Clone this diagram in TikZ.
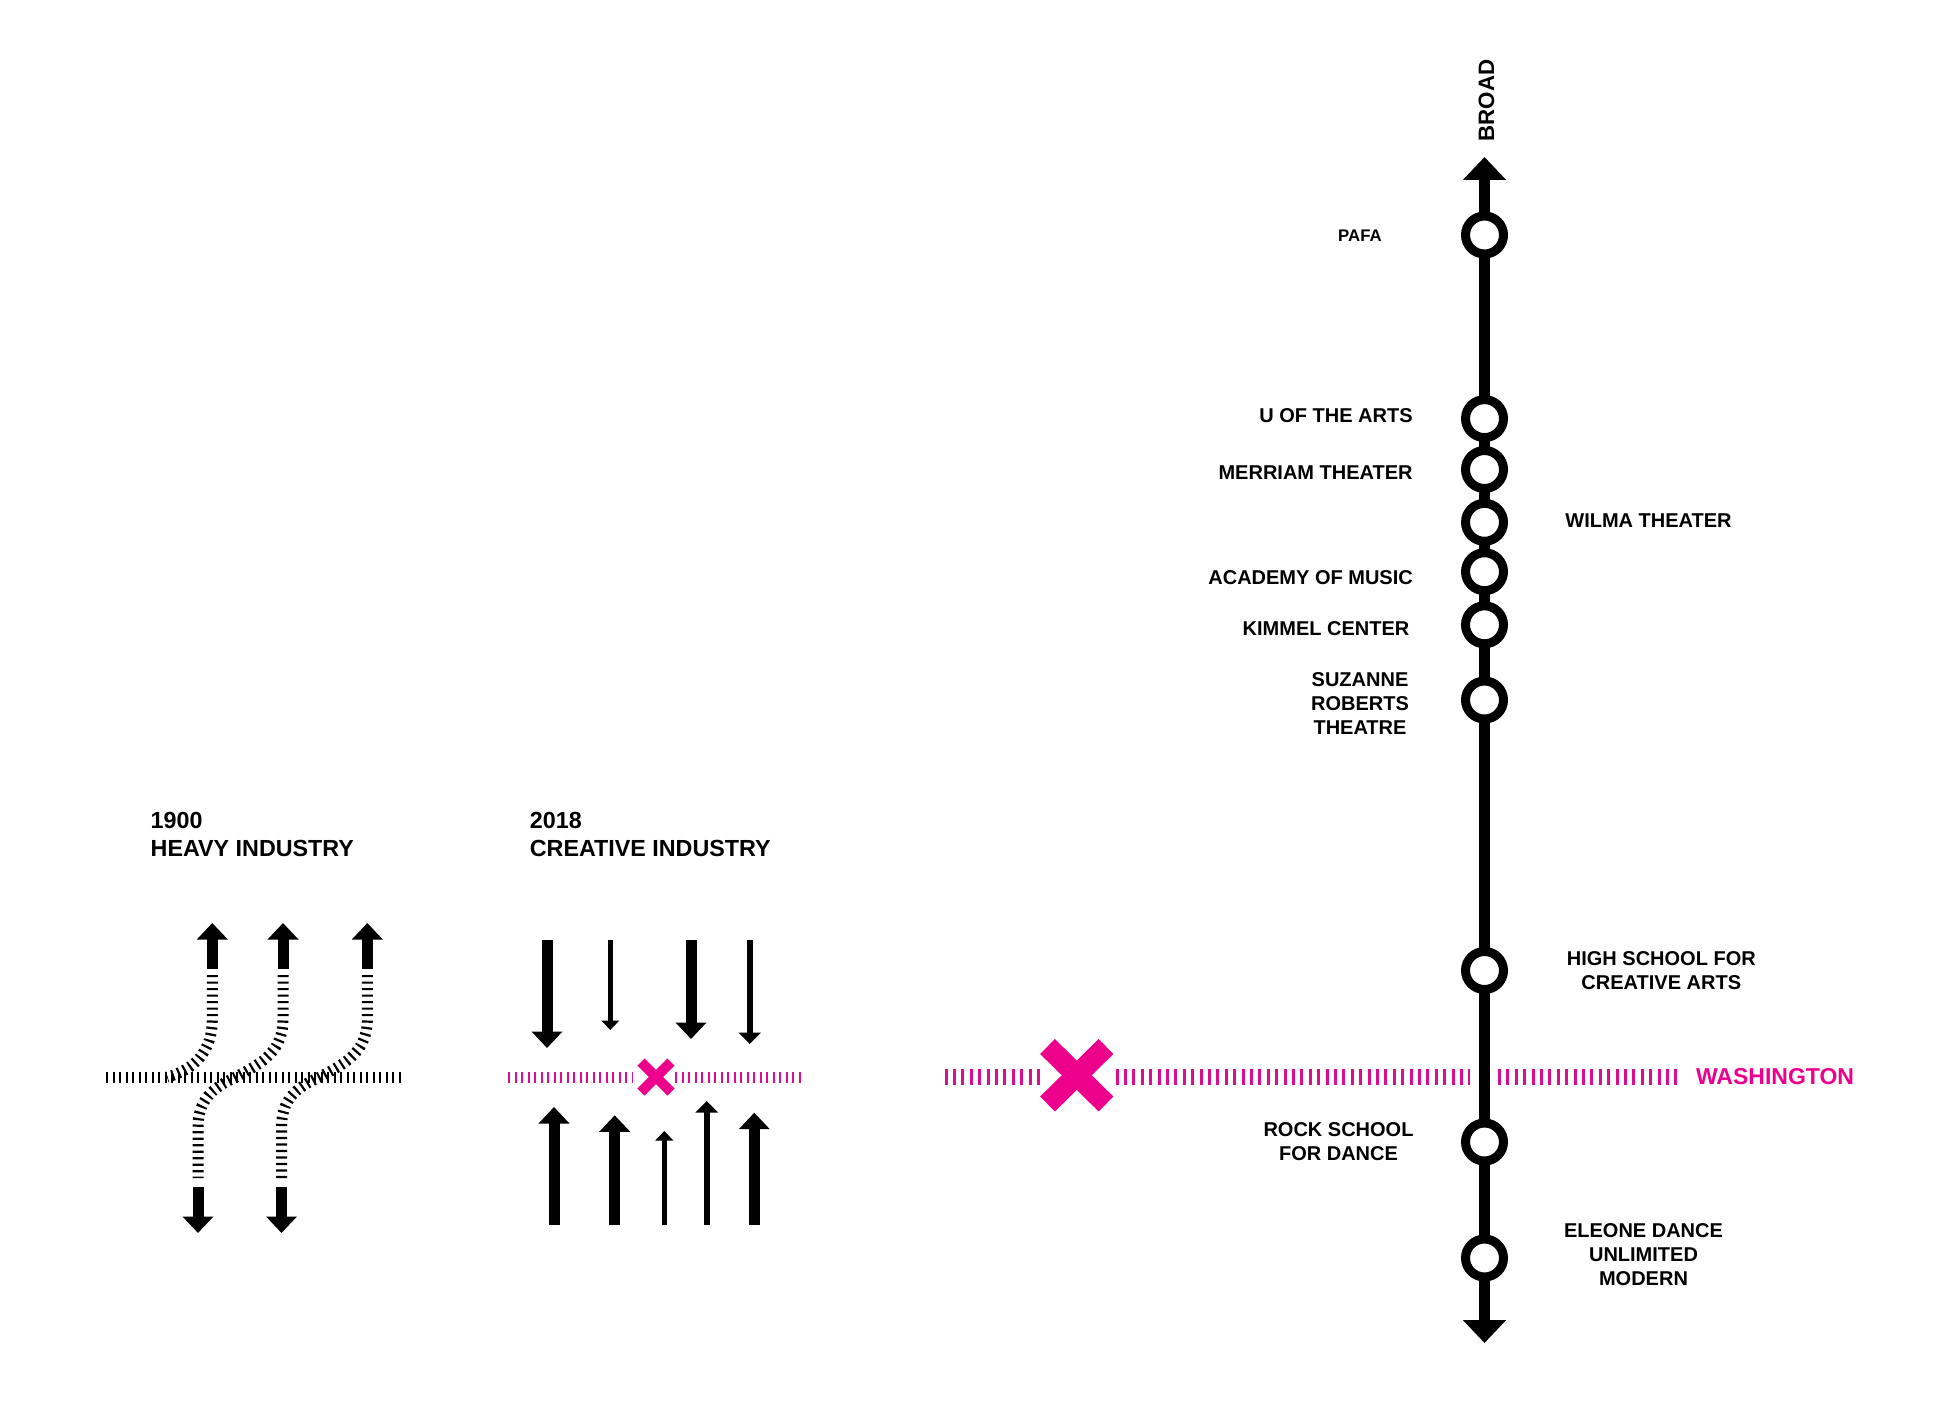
\documentclass[tikz,border=0pt]{standalone}
\usepackage{fontspec}
\setmainfont{Liberation Sans}
\usetikzlibrary{arrows.meta}
\definecolor{hotpink}{HTML}{EC008C}
\definecolor{tiepink}{HTML}{DC0E8C}
\tikzset{
  lbl/.style={font=\bfseries\fontsize{20}{24}\selectfont,align=center,inner sep=0pt,text=black},
  ttl/.style={font=\bfseries\fontsize{23.3}{28}\selectfont,align=left,inner sep=0pt,anchor=west},
  stopring/.style={circle,draw=black,fill=white,line width=9pt,minimum size=38pt,inner sep=0pt,outer sep=0pt},
  road/.style={draw=black,line width=11.5pt},
  ties/.style={draw=black,line width=11pt,dash pattern=on 2.2pt off 4.3pt},
  pinkties/.style={draw=tiepink,line width=11pt,dash pattern=on 2.4pt off 4.1pt},
  bigties/.style={draw=tiepink,line width=16pt,dash pattern=on 3pt off 5.4pt},
  heavy/.style={draw=black,line width=11pt,-{Triangle[length=16.5pt,width=30pt]}},
  mid/.style={draw=black,line width=6pt,-{Triangle[length=11.5pt,width=22pt]}},
  slim/.style={draw=black,line width=4.5pt,-{Triangle[length=9.5pt,width=17.5pt]}},
  crossbar/.style={draw=hotpink,line width=10pt},
  bigcross/.style={draw=hotpink,line width=21pt}
}
\begin{document}
\begin{tikzpicture}[x=1pt,y=-1pt]
\fill[white] (0,0) rectangle (1936,1407);
\useasboundingbox (0,0) rectangle (1936,1407);

% ---- Broad street: connectors first, rings on top
\path
  (1484.5,235) coordinate (c1)
  (1484.5,418.6) coordinate (c2)
  (1484.5,469.5) coordinate (c3)
  (1484.5,522.3) coordinate (c4)
  (1484.5,571.7) coordinate (c5)
  (1484.5,624.8) coordinate (c6)
  (1484.5,700) coordinate (c7)
  (1484.5,970.5) coordinate (c8)
  (1484.5,1142) coordinate (c9)
  (1484.5,1258) coordinate (c10);
\coordinate (ntip) at (1484.5,157);
\coordinate (stip) at (1484.5,1343);
\draw[road,-{Triangle[length=23pt,width=42pt]}] (c1) -- (ntip);
\draw[road,-{Triangle[length=23pt,width=42pt]}] (c10) -- (stip);
\draw[road] (c1) -- (c10);
\node[stopring] (s1) at (c1) {};
\node[stopring] (s2) at (c2) {};
\node[stopring] (s3) at (c3) {};
\node[stopring] (s4) at (c4) {};
\node[stopring] (s5) at (c5) {};
\node[stopring] (s6) at (c6) {};
\node[stopring] (s7) at (c7) {};
\node[stopring] (s8) at (c8) {};
\node[stopring] (s9) at (c9) {};
\node[stopring] (s10) at (c10) {};

\node[lbl,rotate=90,font=\bfseries\fontsize{22.3}{24}\selectfont] (broad) at (1486.5,100.5) {BROAD};
\node[lbl,font=\bfseries\fontsize{16.8}{20}\selectfont] (pafa) at (1360,236) {PAFA};
\node[lbl] (arts) at (1336,416) {U OF THE ARTS};
\node[lbl] (merriam) at (1315.6,472.3) {MERRIAM THEATER};
\node[lbl] (wilma) at (1648.5,521) {WILMA THEATER};
\node[lbl] (academy) at (1310.6,577.2) {ACADEMY OF MUSIC};
\node[lbl] (kimmel) at (1326,628.5) {KIMMEL CENTER};
\node[lbl] (suzanne) at (1360,703.8) {SUZANNE\\ROBERTS\\THEATRE};
\node[lbl] (high) at (1661.3,970.5) {HIGH SCHOOL FOR\\CREATIVE ARTS};
\node[lbl] (rock) at (1338.5,1142) {ROCK SCHOOL\\FOR DANCE};
\node[lbl] (eleone) at (1643.5,1255) {ELEONE DANCE\\UNLIMITED\\MODERN};

% ---- Washington
\coordinate (w1) at (944.5,1077);
\coordinate (w2) at (1040,1077);
\coordinate (w3) at (1115.5,1077);
\coordinate (w4) at (1470,1077);
\coordinate (w5) at (1498,1077);
\coordinate (w6) at (1677,1077);
\draw[bigties] (w1) -- (w2);
\draw[bigties] (w3) -- (w4);
\draw[bigties] (w5) -- (w6);
\coordinate (xa) at (1047.5,1046.5);
\coordinate (xb) at (1106,1104);
\coordinate (xc) at (1106,1046.5);
\coordinate (xd) at (1047.5,1104);
\draw[bigcross] (xa) -- (xb);
\draw[bigcross] (xc) -- (xd);
\node[lbl,text=hotpink,font=\bfseries\fontsize{23}{26}\selectfont] (wash) at (1775,1077) {WASHINGTON};

% ---- 1900
\node[ttl] (t1) at (150.5,834) {1900\\HEAVY INDUSTRY};
\coordinate (h1) at (106,1077);
\coordinate (h2) at (401,1077);
\draw[ties] (h1) -- (h2);
\coordinate (a1s) at (212.3,969);
\coordinate (a1t) at (212.3,923);
\coordinate (a2s) at (283,969);
\coordinate (a2t) at (283,923);
\coordinate (a3s) at (367.3,969);
\coordinate (a3t) at (367.3,923);
\coordinate (b1s) at (198,1187);
\coordinate (b1t) at (198,1233);
\coordinate (b2s) at (281.5,1187);
\coordinate (b2t) at (281.5,1233);
\draw[heavy] (a1s) -- (a1t);
\draw[heavy] (a2s) -- (a2t);
\draw[heavy] (a3s) -- (a3t);
\draw[heavy] (b1s) -- (b1t);
\draw[heavy] (b2s) -- (b2t);
\draw[ties] (212.3,975) -- (212.3,1020) .. controls (212.3,1050) and (195,1070) .. (167,1077);
\draw[ties] (283,975) -- (283,1020) .. controls (283,1055) and (255,1066) .. (236,1077)
   .. controls (212,1088) and (198,1100) .. (198,1128) -- (198,1178);
\draw[ties] (367.3,975) -- (367.3,1020) .. controls (367.3,1055) and (339,1066) .. (320,1077)
   .. controls (295,1088) and (281.5,1100) .. (281.5,1128) -- (281.5,1178);

% ---- 2018
\node[ttl] (t2) at (529.7,834) {2018\\CREATIVE INDUSTRY};
\coordinate (p1) at (508,1077);
\coordinate (p2) at (633,1077);
\coordinate (p3) at (675,1077);
\coordinate (p4) at (801,1077);
\draw[pinkties] (p1) -- (p2);
\draw[pinkties] (p3) -- (p4);
\coordinate (ca) at (641,1062);
\coordinate (cb) at (671,1092);
\coordinate (cc) at (671,1062);
\coordinate (cd) at (641,1092);
\draw[crossbar] (ca) -- (cb);
\draw[crossbar] (cc) -- (cd);

\draw[heavy] (547,940) -- (547,1048);
\draw[slim] (610.3,940) -- (610.3,1030);
\draw[heavy] (691,940) -- (691,1039);
\draw[mid] (749.7,940) -- (749.7,1044);
\draw[heavy] (554,1224.5) -- (554,1107);
\draw[heavy] (614.7,1224.5) -- (614.7,1115.3);
\draw[slim] (664.3,1224.5) -- (664.3,1131);
\draw[mid] (706.7,1224.5) -- (706.7,1101);
\draw[heavy] (754.3,1224.5) -- (754.3,1112.7);
\end{tikzpicture}
\end{document}
